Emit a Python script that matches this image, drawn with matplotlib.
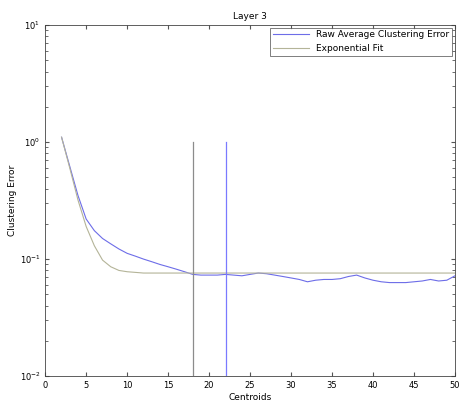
import matplotlib
matplotlib.use("Agg")
import matplotlib.pyplot as plt
import numpy as np

# Layer 3 clustering error vs number of centroids
centroids = np.arange(2, 51)
raw_error = [1.1, 0.62, 0.35, 0.22, 0.175, 0.15, 0.135, 0.122, 0.112,
             0.106, 0.1, 0.095, 0.09, 0.086, 0.082, 0.078, 0.074, 0.073,
             0.073, 0.073, 0.074, 0.073, 0.072, 0.074, 0.076, 0.075, 0.073,
             0.071, 0.069, 0.067, 0.064, 0.066, 0.067, 0.067, 0.068, 0.071,
             0.073, 0.069, 0.066, 0.064, 0.063, 0.063, 0.063, 0.064, 0.065,
             0.067, 0.065, 0.066, 0.072]
fit_error = [1.1, 0.6, 0.32, 0.19, 0.13, 0.098, 0.086, 0.08, 0.078,
             0.077] + [0.076] * 39
vlines_x = [18, 22]
vlines_col = ['#8c8c8c', '#7a7aff']

plt.rcParams['font.family'] = 'DejaVu Sans'
fig = plt.figure(figsize=(4.61, 4.04), dpi=100)
ax = fig.add_axes([0.098, 0.069, 0.889, 0.869])

ax.semilogy(centroids, raw_error, color='#6d6de8', lw=0.8,
            label='Raw Average Clustering Error')
ax.semilogy(centroids, fit_error, color='#b4b498', lw=0.8,
            label='Exponential Fit')
for xv, c in zip(vlines_x, vlines_col):
    ax.plot([xv, xv], [1e-2, 1.0], color=c, lw=0.9)

ax.set_xlim(0, 50)
ax.set_ylim(1e-2, 1e1)
ax.set_xticks(np.arange(0, 51, 5))
ax.tick_params(direction='in', which='both', top=True, right=True,
               labelsize=6, length=3, color='#555555')
ax.tick_params(which='minor', length=2)
for s in ax.spines.values():
    s.set_linewidth(0.6)
    s.set_color('#444444')

ax.set_title('Layer 3', fontsize=6.5, pad=4)
ax.set_xlabel('Centroids', fontsize=6.5, labelpad=2)
ax.set_ylabel('Clustering Error', fontsize=6.5, labelpad=2)
leg = ax.legend(loc='upper right', fontsize=6.5, frameon=True, fancybox=False,
                borderaxespad=0.3, handlelength=4, borderpad=0.3)
leg.get_frame().set_edgecolor('#444444')
leg.get_frame().set_linewidth(0.6)

fig.savefig('out.png', dpi=100)
